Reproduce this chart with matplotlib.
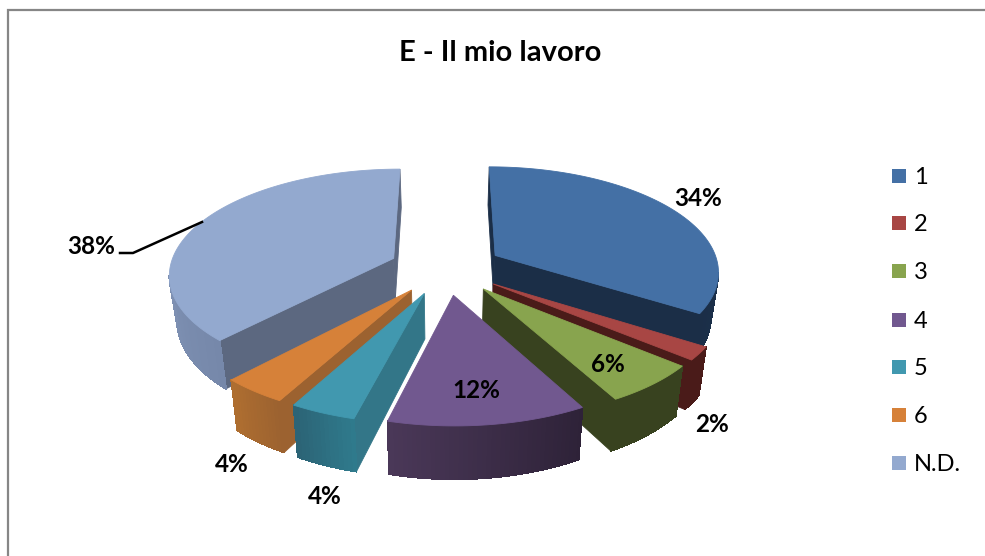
"""E - Il mio lavoro: torta 3D esplosa, proiettata a mano in coordinate pixel."""
import numpy as np
import matplotlib
matplotlib.use("Agg")
import matplotlib.pyplot as plt
from matplotlib.colors import to_rgb
from matplotlib.patches import Polygon, Rectangle

TITLE = "E - Il mio lavoro"
categories = ["1", "2", "3", "4", "5", "6", "N.D."]
values = [34, 2, 6, 12, 4, 4, 38]

top_colors = ["#4470A5", "#A84644", "#88A44E", "#71588F", "#4198AF", "#D68139", "#93A9CF"]
cut_colors = ["#1B2E47", "#4A1B19", "#38421F", "#2E2238", "#337688", "#9C6230", "#5C6880"]
wall_start = ["#1F3A5C", "#4A1B19", "#38421F", "#2E2238", "#2F7A8C", "#9C6230", "#7688AA"]
wall_end = ["#1B2E47", "#4A1B19", "#38421F", "#4A3858", "#2C6476", "#AE6E30", "#93A7C9"]

label_pos = [(698, 199), (712, 424), (608, 364), (476, 390), (325, 497), (232, 465), (91, 246)]
leader_x = [120, 133, 202]
leader_y = [253, 253, 222]
legend_y = [176, 223, 271, 320, 367, 415, 463]

# parametri di proiezione, stimati dalla figura
CX, CY = 446, 268
R = 224
EXPLODE = 57
KAPPA = 0.00062
B = 0.465
DEPTH = 44
BOTTOM_X = 0.972

plt.rcParams["font.family"] = ["Lato", "DejaVu Sans"]


def project(X, Y, bottom=False):
    s = 1 / (1 + KAPPA * Y)
    x = CX + X * s * (BOTTOM_X if bottom else 1)
    y = CY - B * Y * s + (DEPTH * s if bottom else 0)
    return x, y


def quad(ax, xs, ys, color, z, aa=True):
    ax.add_patch(Polygon(np.column_stack([xs, ys]), closed=True, facecolor=color,
                         edgecolor=color, linewidth=0.6, zorder=z, antialiased=aa))


def draw_slice(ax, i, t0, t1, z):
    mid = (t0 + t1) / 2
    ex, ey = EXPLODE * np.sin(mid), EXPLODE * np.cos(mid)
    th = np.linspace(t0, t1, max(int(np.degrees(t1 - t0)), 4) + 1)
    X = ex + R * np.sin(th)
    Y = ey + R * np.cos(th)
    xt, yt = project(X, Y)
    xb, yb = project(X, Y, bottom=True)
    axt, ayt = project(ex, ey)
    axb, ayb = project(ex, ey, bottom=True)

    # facce di taglio, solo se stanno sotto al bordo della faccia superiore
    if xt[0] < axt:
        quad(ax, [axt, xt[0], xb[0], axb], [ayt, yt[0], yb[0], ayb], cut_colors[i], z)
    if xt[-1] > axt:
        quad(ax, [axt, xt[-1], xb[-1], axb], [ayt, yt[-1], yb[-1], ayb], cut_colors[i], z)

    # parete esterna con sfumatura, solo la parte rivolta verso chi guarda
    c0, c1 = np.array(to_rgb(wall_start[i])), np.array(to_rgb(wall_end[i]))
    for k in range(len(th) - 1):
        if xt[k + 1] < xt[k]:
            f = k / max(len(th) - 2, 1)
            quad(ax, [xt[k], xt[k + 1], xb[k + 1], xb[k]],
                 [yt[k], yt[k + 1], yb[k + 1], yb[k]], c0 + (c1 - c0) * f, z, aa=False)

    quad(ax, np.r_[axt, xt], np.r_[ayt, yt], top_colors[i], z + 0.5)


fig = plt.figure(figsize=(9.85, 5.56), dpi=100)
ax = fig.add_axes([0, 0, 1, 1])
ax.set_xlim(0, 985)
ax.set_ylim(556, 0)
ax.axis("off")

# cornice del grafico
ax.plot([8, 8, 985], [556, 10, 10], color="#868686", lw=1.6, solid_joinstyle="miter")

ax.text(500, 53, TITLE, ha="center", va="center", fontsize=21, fontweight="bold", color="black")

edges = np.radians(np.cumsum([0] + values) * 3.6)
mids = (edges[:-1] + edges[1:]) / 2
order = np.argsort(-np.cos(mids))
for z, i in enumerate(order):
    draw_slice(ax, i, edges[i], edges[i + 1], 2 + z)

for v, (lx, ly) in zip(values, label_pos):
    ax.text(lx, ly, f"{v}%", ha="center", va="center", fontsize=17.5, fontweight="bold",
            color="black", zorder=20)
ax.plot(leader_x, leader_y, color="black", lw=1.8, zorder=20)

for name, col, ly in zip(categories, top_colors, legend_y):
    ax.add_patch(Rectangle((892, ly - 7), 14, 14, facecolor=col, edgecolor="none"))
    ax.text(914, ly + 1.5, name, ha="left", va="center", fontsize=17, color="black")

fig.savefig("out.png", dpi=100)
